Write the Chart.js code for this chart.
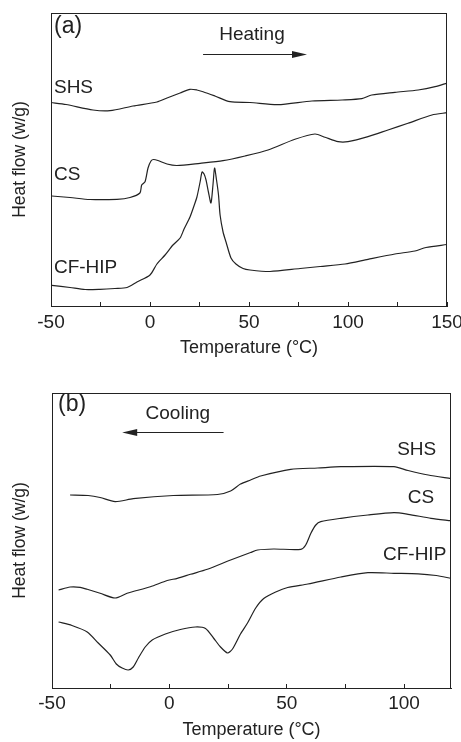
<!DOCTYPE html>
<html><head><meta charset="utf-8">
<script src="https://cdn.jsdelivr.net/npm/chart.js@4.4.1/dist/chart.umd.min.js"></script>
<style>
html,body{margin:0;padding:0;background:#fff;width:461px;height:742px;overflow:hidden}
#wa{position:absolute;left:0;top:0;width:461px;height:370px}
#wb{position:absolute;left:0;top:370px;width:461px;height:372px}
</style></head><body>
<div id="wa"><canvas id="ca"></canvas></div>
<div id="wb"><canvas id="cb"></canvas></div>
<script>
// ---------- Panel (a): heating, temperature (°C) and heat flow (arb. units) ----------
const aShsT = [-50,-42.4,-28.8,-20.2,-8.6,3.5,8.6,15.2,20.2,23.7,26.8,32.8,40.4,50.5,64.6,81.8,97,107,112,123.7,135.4,144,150];
const aShsV = [203.5,201.5,196,195.3,200,204,208,213,216.7,216,214.3,210,204.3,203.5,201.3,205,206,207.3,211,213.7,216,219.3,223];
const aCsT = [-49.6,-40.4,-30.3,-16.7,-10.1,-5.1,-4.2,-2.5,-1.0,0.5,1.8,4.0,8.6,13.6,25.3,36.9,48.0,59.6,73.2,83.3,88.4,95,100,110.1,120.2,130.3,142.4,150];
const aCsV = [110,108.5,106.5,106.7,108.5,113,121,124.3,138,145,146.5,145.5,142,140.5,142.7,145.3,150,156,166.7,172,168.7,164.3,164.3,169.3,176,182.7,191,193.3];
const aCfT = [-49.6,-40.4,-32.8,-25.3,-17.7,-11.6,-6.6,0,3.5,7.6,11.6,15.2,17.2,20.2,22.2,23.7,25.3,26.3,27.3,28.3,29.5,30.8,31.8,32.6,33.6,34.6,35.4,36.9,38.4,40.9,43.4,47,50.5,60.6,75.8,85.9,98.5,110.1,123.7,133.8,139.4,150];
const aCfV = [20.7,18.5,16.5,16.7,17.5,18.5,24,31,42,51,61,68,77,89,100,109,124,134,132,126,114,103,121,138,126,111,91,74,64,48,42,37.5,36,34.5,37.5,39.5,42,46.7,52,55,58.5,61.5];

// ---------- Panel (b): cooling ----------
const bShsT = [-42.3,-34.6,-29.5,-23.1,-15.4,1.7,20.5,26.1,30.3,34.6,38.9,51.7,63.2,73.1,95.7,101.7,110.3,120];
const bShsV = [193,192.5,190.5,186.3,189.3,192.5,193.5,197,204,208,212,218.7,220,221.3,221.3,217.5,213,209.3];
const bCsT = [-47.2,-42.3,-38,-35,-29.5,-23.1,-18,-8.1,-0.9,3.4,9,16.2,26.1,34.6,37.6,44.4,56,58.1,60.3,62.4,64.5,73.1,84.6,95.7,101.7,111.5,120];
const bCsV = [98,101,100.7,98.7,94.7,90,94.7,101.3,107.5,109.7,113.7,118.7,128,135.5,138,139,138.7,143,154.7,163,166.3,169.7,173,175.3,173.7,169.7,167.3];
const bCfT = [-47.2,-41.5,-35,-30.3,-25.2,-22.6,-20.1,-17.5,-15.4,-13.2,-10.3,-7.3,-1.7,4.7,11.1,15.4,18.8,21.8,24.8,26.9,30.3,33.3,36.8,40.2,45.3,50.4,59,73.1,84.6,95.7,106,113.7,120];
const bCfV = [66,62.5,56,45,33,24,20,18,21,30,41,48,54,58.5,61,59.5,50,41,35,39,54,65,80,89.5,96,100.5,104,111,115.3,114.7,114.2,112.5,109.7];

// axis settings
const aXRange = [-50, 150];
const bXRange = [-50, 120];
const aYRange = [0, 293];
const bYRange = [0, 295];
const xTickStep = 25;
const xLabelStep = 50;

const FONT = "'Liberation Sans', Arial, sans-serif";
const INK = '#222';

function pts(t, v) { return t.map((x, i) => ({x: x, y: v[i]})); }

const framePlugin = {
  id: 'frame',
  afterDraw(chart) {
    const {ctx, chartArea: a} = chart;
    ctx.save();
    ctx.strokeStyle = INK; ctx.lineWidth = 1;
    ctx.strokeRect(Math.round(a.left) + 0.5, Math.round(a.top) + 0.5, Math.round(a.right - a.left) - 1, Math.round(a.bottom - a.top));
    ctx.restore();
  }
};

const notesPlugin = {
  id: 'notes',
  afterDraw(chart, args, opts) {
    const {ctx} = chart;
    const xs = chart.scales.x, ys = chart.scales.y;
    ctx.save();
    ctx.fillStyle = INK;
    ctx.textBaseline = 'middle';
    (opts.labels || []).forEach(l => {
      ctx.font = l.size + 'px ' + FONT;
      ctx.textAlign = l.align;
      ctx.fillText(l.text, xs.getPixelForValue(l.x), ys.getPixelForValue(l.y));
    });
    (opts.arrows || []).forEach(a => {
      const x0 = xs.getPixelForValue(a.from), x1 = xs.getPixelForValue(a.to);
      const y = Math.round(ys.getPixelForValue(a.y)) + 0.5;
      const dir = Math.sign(x1 - x0);
      ctx.strokeStyle = INK; ctx.lineWidth = 1.2;
      ctx.beginPath(); ctx.moveTo(x0, y); ctx.lineTo(x1 - dir * 8, y); ctx.stroke();
      ctx.beginPath();
      ctx.moveTo(x1, y);
      ctx.lineTo(x1 - dir * 15, y - 3.5);
      ctx.lineTo(x1 - dir * 15, y + 3.5);
      ctx.closePath(); ctx.fill();
    });
    ctx.restore();
  }
};

function makeChart(id, series, xr, yr, xH, yW, pad, titlePadX, tickPad, labels, arrows) {
  return new Chart(document.getElementById(id), {
    type: 'line',
    data: {
      datasets: series.map(s => ({
        data: pts(s[0], s[1]),
        borderColor: INK, borderWidth: 1.2, pointRadius: 0, tension: 0.25, fill: false
      }))
    },
    options: {
      responsive: true, maintainAspectRatio: false, animation: false, devicePixelRatio: 1,
      layout: {padding: pad},
      plugins: {legend: {display: false}, tooltip: {enabled: false},
        notes: {labels: labels, arrows: arrows}},
      scales: {
        x: {
          type: 'linear', min: xr[0], max: xr[1],
          afterFit: s => { s.height = xH; s.paddingLeft = 0; s.paddingRight = 0; },
          grid: {display: true, drawOnChartArea: false, drawTicks: true, tickLength: -4, color: INK, lineWidth: 1},
          border: {display: true, color: INK, width: 1},
          ticks: {
            stepSize: xTickStep, includeBounds: false, autoSkip: false, maxRotation: 0, padding: tickPad,
            color: INK, font: {family: FONT, size: 19},
            callback: v => (v % xLabelStep === 0 ? String(v) : '')
          },
          title: {display: true, text: 'Temperature (°C)', color: INK, font: {family: FONT, size: 18}, padding: {top: 0, bottom: titlePadX}}
        },
        y: {
          type: 'linear', min: yr[0], max: yr[1],
          afterFit: s => { s.width = yW; },
          grid: {display: false},
          border: {display: true, color: INK, width: 1},
          ticks: {display: false},
          title: {display: true, text: 'Heat flow (w/g)', color: INK, font: {family: FONT, size: 17.5}, padding: {top: 10, bottom: 0}}
        }
      }
    },
    plugins: [framePlugin, notesPlugin]
  });
}

makeChart('ca', [[aShsT, aShsV], [aCsT, aCsV], [aCfT, aCfV]], aXRange, aYRange,
  64, 51, {top: 13, right: 14, left: 0, bottom: 0}, 11, 9,
  [
    {text: '(a)', x: -48.5, y: 279, size: 23, align: 'left'},
    {text: 'Heating', x: 51.5, y: 271, size: 19, align: 'center'},
    {text: 'SHS', x: -48.5, y: 218, size: 19, align: 'left'},
    {text: 'CS', x: -48.5, y: 131, size: 19, align: 'left'},
    {text: 'CF-HIP', x: -48.5, y: 38, size: 19, align: 'left'}
  ],
  [{from: 26.8, to: 79.3, y: 251.7}]
);

makeChart('cb', [[bShsT, bShsV], [bCsT, bCsV], [bCfT, bCfV]], bXRange, bYRange,
  54, 52, {top: 23, right: 10, left: 0, bottom: 0}, 1, 8,
  [
    {text: '(b)', x: -47.4, y: 283, size: 23, align: 'left'},
    {text: 'Cooling', x: 3.6, y: 274, size: 19, align: 'center'},
    {text: 'SHS', x: 113.7, y: 238, size: 19, align: 'right'},
    {text: 'CS', x: 112.8, y: 190, size: 19, align: 'right'},
    {text: 'CF-HIP', x: 118, y: 133, size: 19, align: 'right'}
  ],
  [{from: 23.1, to: -20.1, y: 255.7}]
);
</script>
</body></html>
